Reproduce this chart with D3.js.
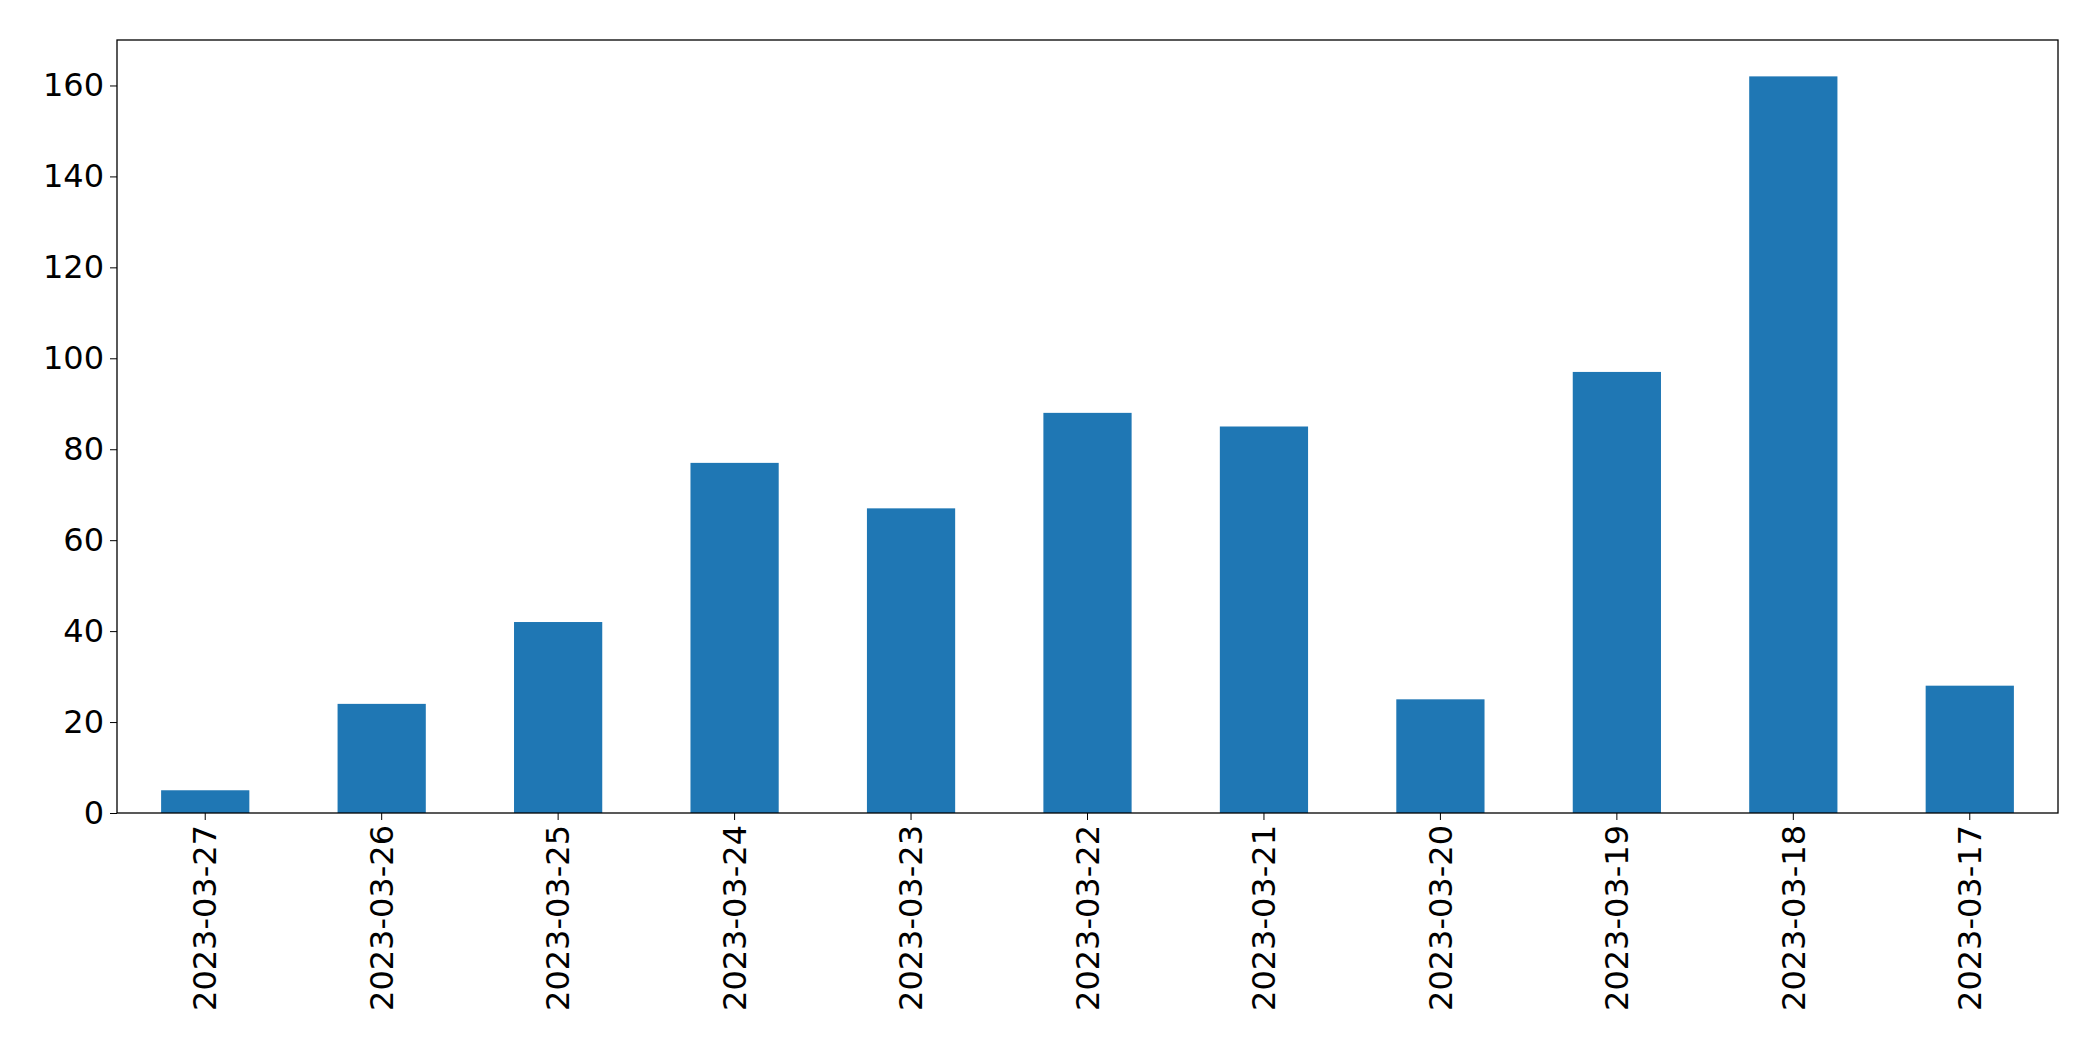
<!DOCTYPE html>
<html>
<head>
<meta charset="utf-8">
<script src="https://cdn.jsdelivr.net/npm/d3@7"></script>
<style>
  body { margin: 0; background: #fff; }
  text { font-family: "DejaVu Sans", sans-serif; }
</style>
</head>
<body>
<script>
const dates  = ['2023-03-27', '2023-03-26', '2023-03-25', '2023-03-24', '2023-03-23', '2023-03-22',
                '2023-03-21', '2023-03-20', '2023-03-19', '2023-03-18', '2023-03-17'];
const counts = [5, 24, 42, 77, 67, 88, 85, 25, 97, 162, 28];
const yTicks = [0, 20, 40, 60, 80, 100, 120, 140, 160];

const W = 2093, H = 1061;
const margin = { top: 40, right: 35, bottom: 248, left: 117 };
const width  = W - margin.left - margin.right;
const height = H - margin.top - margin.bottom;

const svg = d3.select('body').append('svg')
      .attr('width', W)
      .attr('height', H);

const g = svg.append('g')
      .attr('transform', 'translate(' + margin.left + ',' + margin.top + ')');

const x = d3.scaleBand()
      .domain(dates)
      .range([0, width])
      .paddingInner(0.5)
      .paddingOuter(0.25);

const y = d3.scaleLinear()
      .domain([0, 170])
      .range([height, 0]);

g.selectAll('.bar')
  .data(counts)
  .enter().append('rect')
  .attr('class', 'bar')
  .attr('x', (d, i) => x(dates[i]))
  .attr('y', d => y(d))
  .attr('width', x.bandwidth())
  .attr('height', d => y(0) - y(d))
  .style('fill', '#1f77b4');

// frame
g.append('rect')
  .attr('width', width)
  .attr('height', height)
  .style('fill', 'none')
  .style('stroke', '#000')
  .style('stroke-width', 1.3);

const yAxis = g.append('g')
      .call(d3.axisLeft(y).tickValues(yTicks).tickSize(7).tickPadding(6));
yAxis.select('.domain').remove();
yAxis.selectAll('text').style('font-size', '32px').style('fill', '#000');

const xAxis = g.append('g')
      .attr('transform', 'translate(0,' + height + ')')
      .call(d3.axisBottom(x).tickSize(7).tickPadding(6));
xAxis.select('.domain').remove();
xAxis.selectAll('text')
  .style('font-size', '32px')
  .style('fill', '#000')
  .attr('transform', 'rotate(-90)')
  .attr('text-anchor', 'end')
  .attr('x', -12)
  .attr('y', 0)
  .attr('dy', '0.35em');
</script>
</body>
</html>
